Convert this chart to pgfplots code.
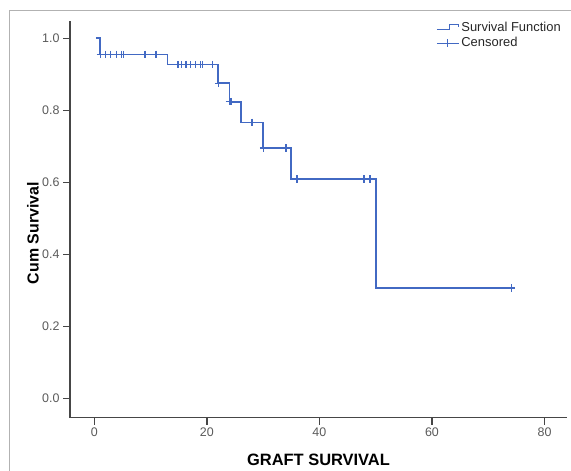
\documentclass[border=0pt]{standalone}
\usepackage{fontspec}
\setmainfont{Liberation Sans}
\usepackage{pgfplots}
\pgfplotsset{compat=1.18}

\definecolor{kmblue}{RGB}{66,105,195}
\definecolor{axgray}{RGB}{70,70,70}
\definecolor{lblgray}{RGB}{90,90,90}

\pgfplotsset{
  kmstep legend/.style={legend image code/.code={%
    \draw[##1, line width=0.9bp] (0bp,-2.5bp) -- (13bp,-2.5bp) -- (13bp,3bp) -- (22bp,3bp) -- (22bp,0.5bp);}},
  censor legend/.style={legend image code/.code={%
    \draw[mark repeat=2,mark phase=2,##1,sharp plot, line width=0.9bp] plot coordinates {(0bp,0bp) (11bp,0bp) (22bp,0bp)};}},
}

\begin{document}
\begin{tikzpicture}[x=1bp,y=1bp]
\useasboundingbox (0,0) rectangle (571,471);
% outer frame (cut at right and bottom in the original)
\draw[gray!60, line width=1bp] (9,0) -- (9,460.5) -- (571,460.5);
\begin{axis}[
  at={(70bp,53.3bp)}, anchor=south west,
  scale only axis, width=497bp, height=397bp,
  xmin=-4.32, xmax=84.0, ymin=-0.054, ymax=1.049,
  axis x line=bottom, axis y line=left,
  axis line style={-, draw=axgray, line width=1.5bp},
  tick align=outside, major tick length=7bp,
  tick style={draw=axgray, line width=1.5bp},
  xtick={0,20,40,60,80}, ytick={0,0.2,0.4,0.6,0.8,1.0},
  /pgf/number format/assume math mode=true,
  yticklabel style={/pgf/number format/.cd, fixed, fixed zerofill, precision=1},
  ticklabel style={font=\fontsize{12.5}{14}\selectfont, text=lblgray},
  xlabel={GRAFT SURVIVAL}, ylabel={Cum Survival},
  xlabel style={font=\fontsize{16.5}{18}\selectfont\bfseries, at={(axis description cs:0.5,0)}, anchor=center, yshift=-42bp},
  ylabel style={font=\fontsize{16}{18}\selectfont\bfseries, at={(axis description cs:-0.0744,0.465)}, anchor=center},
  legend style={draw=none, fill=none, at={(axis description cs:0.737,1.003)}, anchor=north west,
    font=\fontsize{13}{15}\selectfont, inner sep=0pt, row sep=1bp, text=black!85},
  legend cell align=left,
  clip=false,
]
\addplot[kmblue, line width=1.7bp, const plot, mark=none, kmstep legend]
  coordinates {(0.3,1.0) (1.0,0.955) (13.0,0.927) (22.0,0.875) (24.0,0.824) (26.1,0.766) (30.0,0.695) (35.0,0.609) (50.0,0.306) (74.1,0.306)};
\addlegendentry{Survival Function}
\addplot[kmblue, only marks, mark=+, mark size=3.8bp, line width=1.5bp, censor legend]
  coordinates {
  (1.1,0.955) (2.0,0.955) (2.9,0.955) (3.9,0.955) (4.8,0.955) (5.2,0.955) (9.0,0.955) (11.0,0.955)
  (14.9,0.927) (15.5,0.927) (16.3,0.927) (17.1,0.927) (18.0,0.927) (18.9,0.927) (19.2,0.927) (21.0,0.927)
  (22.1,0.875)
  (24.0,0.824) (24.3,0.824)
  (28.0,0.766)
  (30.1,0.695) (34.1,0.695)
  (36.0,0.609) (47.9,0.609) (49.0,0.609)
  (74.1,0.306)};
\addlegendentry{Censored}
\end{axis}
\end{tikzpicture}
\end{document}
